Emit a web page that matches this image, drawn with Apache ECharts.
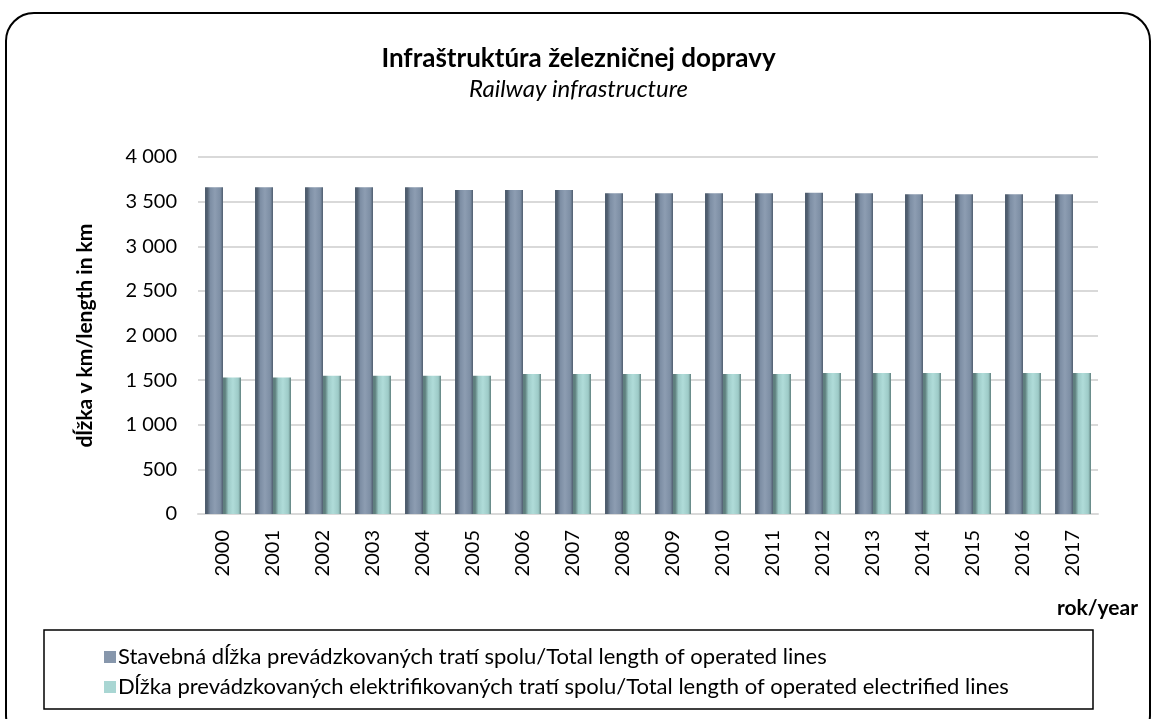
<!DOCTYPE html>
<html>
<head>
<meta charset="utf-8">
<script src="https://cdn.jsdelivr.net/npm/echarts@6/dist/echarts.min.js"></script>
<style>
html,body{margin:0;padding:0;background:#fff;}
#chart{width:1157px;height:719px;}
</style>
</head>
<body>
<div id="chart"></div>
<script>
// data
var years = ['2000','2001','2002','2003','2004','2005','2006','2007','2008','2009',
	'2010','2011','2012','2013','2014','2015','2016','2017'];
var totalLines = [3662,3662,3662,3660,3660,3630,3630,3630,3595,3593,
	3593,3593,3600,3593,3583,3583,3583,3583];
var electrifiedLines = [1530,1530,1550,1550,1550,1550,1570,1570,1570,1570,
	1570,1570,1580,1580,1580,1580,1580,1580];
var yTicks = [0,500,1000,1500,2000,2500,3000,3500,4000];

var nameTotal = 'Stavebná dĺžka prevádzkovaných tratí spolu/Total length of operated lines';
var nameElec = 'Dĺžka prevádzkovaných elektrifikovaných tratí spolu/Total length of operated electrified lines';

var FONT = 'Lato';

// valcovy vzhlad stlpcov
function cyl(dark, mid, light) {
	return new echarts.graphic.LinearGradient(0, 0, 1, 0, [
		{offset: 0, color: dark},
		{offset: 0.12, color: dark},
		{offset: 0.3, color: mid},
		{offset: 0.55, color: light},
		{offset: 0.85, color: mid},
		{offset: 1, color: dark}
	]);
}

var Chart1 = echarts.init(document.getElementById('chart'));
Chart1.setOption({
	animation: false,
	backgroundColor: '#fff',
	title: {
		text: 'Infraštruktúra železničnej dopravy',
		subtext: 'Railway infrastructure',
		left: 'center',
		top: 41,
		itemGap: 5,
		textStyle: {fontFamily: FONT, fontSize: 26, fontWeight: 'bold', color: '#000'},
		subtextStyle: {fontFamily: FONT, fontSize: 24, fontStyle: 'italic', color: '#000'}
	},
	grid: {left: 198, right: 59, top: 157, bottom: 205},
	legend: {
		orient: 'vertical',
		left: 99,
		top: 641,
		itemWidth: 12,
		itemHeight: 12,
		itemGap: 8,
		icon: 'rect',
		textStyle: {fontFamily: FONT, fontSize: 22, color: '#000', padding: [0, 0, 0, -3]},
		data: [
			{name: nameTotal, itemStyle: {color: '#8797ac'}},
			{name: nameElec, itemStyle: {color: '#a9d6d3'}}
		]
	},
	xAxis: {
		type: 'category',
		data: years,
		axisTick: {show: false},
		axisLine: {lineStyle: {color: '#d9d9d9', width: 2}},
		axisLabel: {rotate: 90, margin: 16, fontFamily: FONT, fontSize: 20, color: '#000'}
	},
	yAxis: {
		type: 'value',
		min: yTicks[0],
		max: yTicks[yTicks.length - 1],
		interval: 500,
		name: 'dĺžka v km/length in km',
		nameLocation: 'middle',
		nameGap: 102,
		nameTextStyle: {fontFamily: FONT, fontSize: 21, fontWeight: 'bold', color: '#000'},
		axisLine: {show: false},
		axisTick: {show: false},
		axisLabel: {
			margin: 21,
			fontFamily: FONT,
			fontSize: 20,
			color: '#000',
			formatter: function (v) {
				return String(v).replace(/\B(?=(\d{3})+(?!\d))/g, ' ');
			}
		},
		splitLine: {lineStyle: {color: '#d9d9d9', width: 2}}
	},
	series: [
		{
			name: nameTotal,
			type: 'bar',
			data: totalLines,
			barWidth: 18,
			barGap: '0%',
			itemStyle: {color: cyl('#4f5d6e', '#7d8ea4', '#8d9db2')}
		},
		{
			name: nameElec,
			type: 'bar',
			data: electrifiedLines,
			barWidth: 18,
			itemStyle: {color: cyl('#5f807e', '#9dcac7', '#b0dcd9')}
		}
	],
	graphic: [
		{
			type: 'rect',
			shape: {x: 6, y: 13, width: 1144, height: 730, r: 28},
			style: {fill: 'none', stroke: '#000', lineWidth: 2},
			silent: true
		},
		{
			type: 'rect',
			shape: {x: 44, y: 630, width: 1049, height: 79},
			style: {fill: 'none', stroke: '#000', lineWidth: 1.5},
			silent: true
		},
		{
			type: 'text',
			right: 19,
			top: 598,
			style: {text: 'rok/year', font: 'bold 21px ' + FONT, fill: '#000'}
		}
	]
});
</script>
</body>
</html>
